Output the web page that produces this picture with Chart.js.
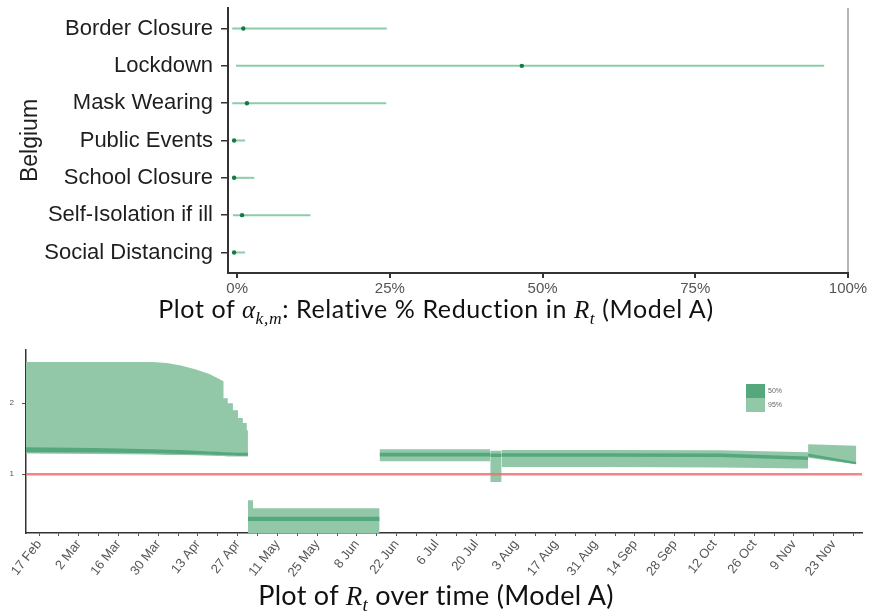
<!DOCTYPE html>
<html>
<head>
<meta charset="utf-8">
<script src="https://cdn.jsdelivr.net/npm/chart.js@4.4.1/dist/chart.umd.min.js"></script>
<style>
  body { margin: 0; background: #fff; width: 872px; height: 613px; position: relative; overflow: hidden; }
  canvas { position: absolute; left: 0; }
  #alphaChart { top: 0; }
  #rtChart { top: 340px; }
  .caption { position: absolute; left: 0; width: 872px; text-align: center; color: #111;
             font-family: Lato, "Open Sans", sans-serif; white-space: nowrap; z-index: 2; }
  .caption .m { font-family: "Liberation Serif", serif; font-style: italic; }
  .caption sub { font-size: 70%; }
  #cap1 { top: 293px; font-size: 25px; line-height: 30px; letter-spacing: 0.6px; }
  #cap2 { top: 578px; font-size: 27px; line-height: 34px; letter-spacing: 0.3px; }
  .legend { position: absolute; left: 746px; font-family: "Liberation Sans", sans-serif; font-size: 7px; color: #666; z-index: 2; }
  .legend .box { display: inline-block; width: 19px; height: 14px; vertical-align: middle; margin-right: 3px; }
</style>
</head>
<body>
<canvas id="alphaChart" width="872" height="300"></canvas>
<canvas id="rtChart" width="872" height="252"></canvas>

<div class="caption" id="cap1">Plot of <span class="m">α</span><sub class="m">k,m</sub>: Relative % Reduction in <span class="m">R</span><sub class="m">t</sub> (Model A)</div>
<div class="caption" id="cap2">Plot of <span class="m">R</span><sub class="m">t</sub> over time (Model A)</div>

<div class="legend" style="top:384px"><span class="box" style="background:#55a87c"></span>50%</div>
<div class="legend" style="top:398px"><span class="box" style="background:#92c8a8"></span>95%</div>

<script>
// ---- top panel: relative % reduction per intervention (Belgium) ----
const interventions = ['Border Closure', 'Lockdown', 'Mask Wearing', 'Public Events',
                       'School Closure', 'Self-Isolation if ill', 'Social Distancing'];
const alphaMedian = [1.0, 46.6, 1.6, -0.5, -0.5, 0.8, -0.5];
const alphaLower  = [-0.8, -0.2, -0.8, -0.8, -0.8, -0.7, -0.8];
const alphaUpper  = [24.5, 96.1, 24.4, 1.3, 2.8, 12.0, 1.3];
const pctTicks = [0, 25, 50, 75, 100];

// ---- bottom panel: Rt over time, days counted from 17 Feb (null = regime break) ----
const bandDays = [
  -4.6, 20, 40, 45, 50, 55, 60, 63, 65, 65, 66.5, 66.5, 68.3, 68.3, 70.1, 70.1, 71.8, 71.8, 73.2, 73.2, 73.6,
  73.6,
  73.6, 75.4, 75.4, 120,
  120,
  120, 159,
  159,
  159, 163,
  163,
  163, 200, 240, 271,
  271,
  271, 288
];
const hi95 = [
  2.58, 2.58, 2.58, 2.565, 2.53, 2.48, 2.41, 2.35, 2.31, 2.07, 2.07, 2.00, 2.00, 1.90, 1.90, 1.79, 1.79, 1.72, 1.72, 1.62, 1.62,
  null,
  0.63, 0.63, 0.52, 0.52,
  null,
  1.35, 1.35,
  null,
  1.33, 1.33,
  null,
  1.34, 1.34, 1.335, 1.31,
  null,
  1.42, 1.40
];
const hi50 = [
  1.38, 1.37, 1.35, 1.345, 1.34, 1.33, 1.32, 1.315, 1.31, 1.31, 1.31, 1.31, 1.305, 1.305, 1.30, 1.30, 1.30, 1.30, 1.30, 1.30, 1.30,
  null,
  0.40, 0.40, 0.40, 0.40,
  null,
  1.30, 1.30,
  null,
  1.29, 1.29,
  null,
  1.295, 1.295, 1.29, 1.25,
  null,
  1.29, 1.17
];
const lo50 = [
  1.31, 1.305, 1.295, 1.29, 1.285, 1.28, 1.275, 1.27, 1.27, 1.27, 1.265, 1.265, 1.265, 1.265, 1.26, 1.26, 1.26, 1.26, 1.26, 1.26, 1.26,
  null,
  0.34, 0.34, 0.34, 0.34,
  null,
  1.25, 1.25,
  null,
  1.24, 1.24,
  null,
  1.245, 1.245, 1.24, 1.20,
  null,
  1.25, 1.14
];
const lo95 = [
  1.29, 1.285, 1.275, 1.27, 1.27, 1.265, 1.26, 1.255, 1.255, 1.255, 1.25, 1.25, 1.25, 1.25, 1.25, 1.25, 1.25, 1.25, 1.25, 1.25, 1.25,
  null,
  0.10, 0.10, 0.10, 0.10,
  null,
  1.18, 1.18,
  null,
  0.89, 0.89,
  null,
  1.10, 1.10, 1.095, 1.08,
  null,
  1.23, 1.14
];
const rtThreshold = 1;
const dateLabels = ['17 Feb', '2 Mar', '16 Mar', '30 Mar', '13 Apr', '27 Apr', '11 May', '25 May', '8 Jun',
                    '22 Jun', '6 Jul', '20 Jul', '3 Aug', '17 Aug', '31 Aug', '14 Sep', '28 Sep', '12 Oct',
                    '26 Oct', '9 Nov', '23 Nov'];
const rtTicks = [1, 2];
const dayMin = -4.6, dayMax = 290;

Chart.defaults.font.family = '"Liberation Sans", Arial, sans-serif';
Chart.defaults.animation = false;

// drop the half-label padding chart.js reserves, so the plot boxes land where the original ones are
const noPad = s => { s.paddingTop = 0; s.paddingBottom = 0; s.paddingLeft = 0; s.paddingRight = 0; };

const intervalSets = interventions.map((name, i) => ({
  type: 'line',
  label: name,
  data: [{ x: alphaLower[i], y: i }, { x: alphaUpper[i], y: i }],
  showLine: true,
  borderColor: '#8ccca6',
  borderWidth: 2,
  pointRadius: 0
}));

new Chart(document.getElementById('alphaChart'), {
  type: 'scatter',
  data: {
    datasets: [
      ...intervalSets,
      {
        label: 'median',
        data: alphaMedian.map((m, i) => ({ x: m, y: i })),
        pointRadius: 2.2,
        pointBackgroundColor: '#137a43',
        pointBorderWidth: 0,
        order: -1
      }
    ]
  },
  options: {
    responsive: false,
    layout: { padding: { top: 8, right: 24, left: 0, bottom: 0 } },
    plugins: { legend: { display: false }, tooltip: { enabled: false } },
    scales: {
      x: {
        type: 'linear',
        min: -1.5,
        max: 100,
        afterBuildTicks: s => { s.ticks = pctTicks.map(v => ({ value: v })); },
        afterFit: s => { s.height = 27; noPad(s); },
        ticks: { callback: v => v + '%', color: '#555', font: { size: 15 }, padding: 2, maxRotation: 0 },
        grid: {
          color: ctx => (ctx.tick && ctx.tick.value === 100 ? '#b5b5b5' : 'rgba(0,0,0,0)'),
          tickColor: '#333',
          tickLength: 5,
          lineWidth: 2
        },
        border: { color: '#333', width: 2 }
      },
      y: {
        type: 'linear',
        reverse: true,
        min: -0.55,
        max: 6.55,
        afterBuildTicks: s => { s.ticks = interventions.map((_, i) => ({ value: i })); },
        afterFit: s => { s.width = 228; noPad(s); },
        ticks: { callback: v => interventions[v], color: '#1e1e1e', font: { size: 22 }, padding: 8, autoSkip: false },
        grid: { drawOnChartArea: false, tickColor: '#333', tickLength: 7, lineWidth: 1.5 },
        border: { color: '#333', width: 2 },
        title: { display: true, text: 'Belgium', color: '#1e1e1e', font: { size: 23 }, padding: { top: 17 } }
      }
    }
  }
});

const band = (vals) => bandDays.map((d, i) => ({ x: d, y: vals[i] }));

new Chart(document.getElementById('rtChart'), {
  type: 'line',
  data: {
    datasets: [
      { label: 'threshold', data: [{ x: dayMin, y: rtThreshold }, { x: dayMax, y: rtThreshold }],
        borderColor: 'rgba(242,110,112,0.85)', borderWidth: 2.5, pointRadius: 0, fill: false, order: 0 },
      { label: '50%', data: band(hi50), borderWidth: 0, pointRadius: 0, spanGaps: false,
        fill: { target: '+1' }, backgroundColor: '#55a87c', order: 1 },
      { label: '50% low', data: band(lo50), borderWidth: 0, pointRadius: 0, spanGaps: false, fill: false, order: 1 },
      { label: '95%', data: band(hi95), borderWidth: 0, pointRadius: 0, spanGaps: false,
        fill: { target: '+1' }, backgroundColor: '#92c8a8', order: 2 },
      { label: '95% low', data: band(lo95), borderWidth: 0, pointRadius: 0, spanGaps: false, fill: false, order: 2 }
    ]
  },
  options: {
    responsive: false,
    layout: { padding: { top: 10, right: 10, left: 0, bottom: 0 } },
    plugins: { legend: { display: false }, tooltip: { enabled: false } },
    elements: { line: { tension: 0 } },
    scales: {
      x: {
        type: 'linear',
        min: dayMin,
        max: dayMax,
        afterBuildTicks: s => {
          const t = [];
          for (let d = 0; d <= dayMax - 3; d += 7) t.push({ value: d });
          s.ticks = t;
        },
        afterFit: s => { s.height = 252 - 193; noPad(s); },
        ticks: {
          callback: v => (v % 14 === 0 ? dateLabels[v / 14] : ''),
          color: '#555', font: { size: 13 }, minRotation: 52, maxRotation: 52, autoSkip: false, padding: 1
        },
        grid: { drawOnChartArea: false, tickColor: '#555', tickLength: 3 },
        border: { color: '#333', width: 1.5 }
      },
      y: {
        type: 'linear',
        min: 0.17,
        max: 2.75,
        afterBuildTicks: s => { s.ticks = rtTicks.map(v => ({ value: v })); },
        afterFit: s => { s.width = 26; noPad(s); },
        ticks: { color: '#555', font: { size: 8 }, padding: 8 },
        grid: { drawOnChartArea: false, tickColor: '#555', tickLength: 4 },
        border: { color: '#333', width: 1.5 }
      }
    }
  }
});
</script>
</body>
</html>
